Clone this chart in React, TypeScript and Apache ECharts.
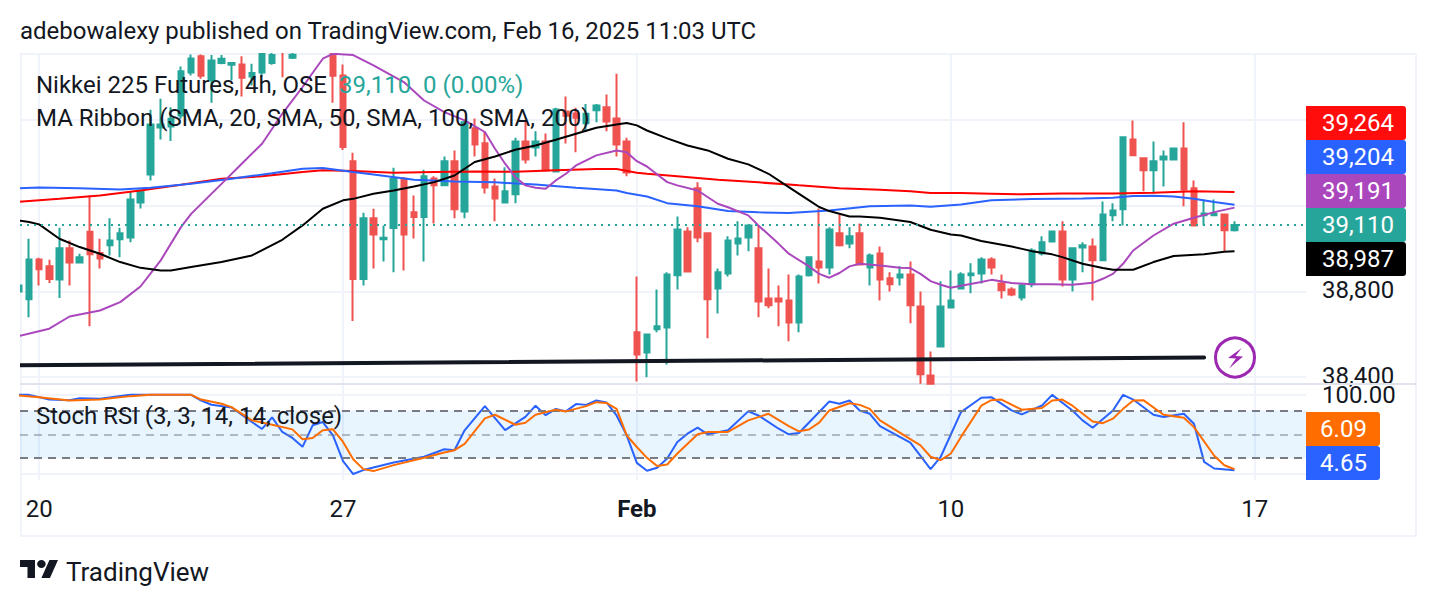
import React, { useEffect, useRef } from "react";
import * as echarts from "echarts";

const opens = [38800,38764,38949,38917,38856,39001,38935,39078,38979,39015,39043,39052,39215,39346,39565,39570,39621,39822,39897,39785,39866,39858,39859,39803,39822,39866,39960,39890,39960,39980,39990,39925,39808,39407,38858,39141,39044,39096,39326,39169,39147,39327,39295,39407,39173,39561,39491,39290,39215,39253,39500,39472,39500,39360,39640,39630,39585,39646,39659,39607,39500,38609,38515,38623,38632,38875,39080,39281,39071,38814,38884,39024,39052,39001,38767,38767,38758,38655,38875,38940,38912,39071,39024,39071,38912,38977,38861,38865,38879,38730,38408,38543,38725,38814,38875,38884,38949,38837,38809,38772,38833,38977,39033,39080,38856,39005,39010,38945,39155,39183,39509,39421,39365,39416,39416,39467,39281,39155,39155,39159,39085];
const closes = [38828,38949,38903,38858,39001,38935,38959,38973,38954,39038,39071,39229,39271,39579,39579,39606,39827,39887,39806,39878,39886,39866,39797,39819,39910,39903,39920,39905,39990,40010,40020,39806,39474,38858,39141,39066,39050,39326,39066,39147,39337,39295,39407,39183,39589,39486,39285,39234,39267,39500,39416,39500,39365,39649,39620,39610,39629,39668,39593,39486,39355,38506,38599,38637,38879,39089,38893,39052,38763,38889,39038,39047,39108,38753,38735,38753,38655,38870,38959,38912,39089,39015,39057,38926,38968,38856,38833,38879,38735,38413,38369,38730,38758,38879,38884,38949,38912,38805,38786,38828,38991,39029,39080,38856,39001,39015,38945,39159,39178,39519,39435,39365,39407,39430,39467,39276,39108,39164,39164,39085,39110];
const highs = [38835,39046,38957,38948,39097,39038,38976,39248,39046,39141,39097,39264,39273,39648,39699,39660,39850,39906,39906,39903,39903,39870,39897,39862,39950,39930,39970,39920,40010,40030,40040,39950,39859,39447,39167,39186,39108,39377,39334,39248,39368,39337,39430,39458,39595,39607,39547,39327,39379,39517,39598,39547,39537,39657,39710,39657,39675,39675,39719,39816,39517,38870,38599,38809,38889,39150,39099,39309,39071,38907,39057,39127,39108,39108,38907,38828,38879,38879,38959,39187,39099,39159,39099,39117,38977,39010,38889,38917,38940,38800,38520,38847,38898,38889,38931,38959,38959,38879,38819,38837,39001,39057,39080,39127,39001,39029,39047,39220,39211,39519,39598,39421,39500,39458,39467,39589,39318,39229,39229,39159,39127];
const lows = [38790,38680,38828,38839,38769,38828,38932,38637,38907,38968,38959,39029,39187,39318,39509,39502,39606,39808,39792,39680,39860,39785,39710,39761,39800,39858,39800,39885,39930,39950,39960,39680,39460,38662,38828,38907,38940,38889,38898,39047,38940,39117,39295,39141,39141,39430,39257,39127,39215,39211,39397,39430,39365,39355,39490,39449,39544,39589,39547,39430,39337,38380,38399,38609,38459,38809,38893,39029,38581,38697,38870,38968,38987,38679,38721,38637,38567,38609,38870,38837,38879,39010,39001,38921,38828,38758,38800,38828,38651,38369,38369,38539,38725,38809,38791,38837,38879,38767,38777,38758,38819,38968,39033,38823,38800,38889,38758,38945,39127,39108,39435,39267,39257,39290,39416,39197,39108,39108,39155,38987,39080];

const maRed = [[0,39218],[4,39232],[8,39248],[12,39271],[16,39298],[20,39326],[24,39337],[28,39357],[30,39365],[33,39362],[37,39354],[41,39357],[45,39360],[49,39358],[53,39365],[57,39371],[59,39371],[61,39354],[62,39349],[65,39337],[69,39321],[73,39309],[77,39295],[81,39282],[85,39274],[88,39268],[90,39259],[93,39259],[96,39256],[99,39253],[103,39257],[108,39257],[112,39260],[116,39267],[120,39264]];
const maBlue = [[0,39282],[2,39285],[6,39281],[10,39276],[13,39284],[17,39302],[21,39326],[25,39352],[28,39372],[30,39376],[33,39357],[35,39346],[39,39321],[43,39313],[47,39309],[51,39299],[55,39284],[59,39271],[60,39259],[62,39243],[64,39212],[67,39197],[70,39175],[73,39169],[76,39166],[80,39178],[84,39198],[88,39201],[90,39195],[93,39206],[96,39225],[100,39231],[105,39234],[108,39237],[110,39245],[112,39246],[114,39243],[116,39232],[118,39217],[120,39204]];
const maPurple = [[0,38592],[3,38626],[5,38683],[8,38711],[10,38750],[12,38823],[14,38945],[16,39100],[17,39162],[20,39302],[22,39396],[24,39489],[26,39629],[28,39754],[30,39886],[31,39909],[33,39903],[35,39855],[38,39777],[40,39691],[42,39637],[44,39598],[46,39544],[47,39466],[48,39396],[49,39333],[50,39295],[51,39284],[52,39279],[53,39318],[54,39349],[55,39388],[57,39435],[59,39458],[60,39450],[61,39408],[62,39383],[64,39310],[65,39295],[67,39271],[69,39209],[70,39193],[72,39155],[73,39108],[75,39022],[76,38976],[78,38917],[79,38882],[80,38864],[81,38886],[82,38917],[83,38929],[85,38921],[87,38910],[88,38909],[89,38882],[90,38848],[91,38831],[92,38817],[93,38826],[95,38844],[96,38854],[98,38839],[100,38833],[102,38833],[104,38831],[106,38840],[107,38859],[108,38882],[109,38929],[110,38991],[112,39061],[114,39116],[116,39144],[118,39170],[120,39191]];
const maBlack = [[0,39131],[1,39124],[2,39113],[4,39046],[6,39007],[8,38976],[10,38937],[12,38910],[14,38898],[15,38898],[17,38914],[20,38937],[23,38968],[26,39041],[28,39108],[30,39186],[32,39225],[33,39232],[35,39256],[37,39271],[39,39290],[41,39310],[43,39341],[45,39404],[47,39430],[49,39461],[51,39481],[53,39508],[55,39536],[57,39564],[59,39579],[60,39586],[61,39575],[62,39551],[64,39514],[66,39481],[68,39458],[70,39419],[72,39393],[74,39349],[76,39287],[78,39225],[79,39194],[80,39175],[82,39150],[83,39150],[85,39144],[88,39124],[90,39088],[92,39066],[93,39061],[95,39035],[98,39010],[100,38988],[102,38973],[103,38960],[105,38929],[107,38909],[108,38901],[110,38901],[112,38937],[114,38965],[117,38974],[119,38985],[120,38987]];
const trendLine = [[0,38455],[117,38492]];

const stochK = [[0,99.6],[1,99.6],[3,93.8],[5,92.9],[6,95.4],[8,94.6],[11,99.6],[13,99.6],[17,99.6],[18,92.5],[19,87.1],[21,83.7],[23,65.4],[24,56.7],[25,71.3],[26,52.9],[27,45.4],[28,34.2],[29,61.3],[30,65.4],[31,48.7],[32,16.2],[33,0],[34,5],[37,14.6],[40,21.7],[42,31.2],[43,30],[44,55],[46,85.4],[48,55.2],[50,72],[51,86],[52,74],[53,82],[54,78.8],[55,88],[56,87],[57,92.5],[58,90],[59,73.7],[60,48.7],[61,14],[62,4.2],[63,7.9],[64,19.6],[65,40.4],[66,50.8],[67,58.3],[68,50],[70,55],[72,78.8],[73,73.7],[75,57],[76,50],[77,51.7],[80,91.2],[81,88.4],[82,92.5],[83,80],[84,75.8],[85,60.4],[88,39.6],[90,6.2],[91,21.7],[93,77.9],[95,95.9],[96,96.7],[98,80],[99,75],[101,86.2],[102,99.6],[104,80],[105,67.5],[106,58.3],[108,80],[109,99.6],[110,93.7],[112,74.6],[113,71.7],[115,75.8],[116,63.3],[117,15.3],[118,7],[120,4.65]];
const stochD = [[0,98.7],[2,96.7],[5,92.5],[8,93.7],[11,98],[13,99.6],[17,99.6],[18,93.7],[20,88.4],[21,84.2],[23,67.5],[25,62],[27,56.2],[28,43.7],[29,45.4],[30,55],[31,56.2],[32,40.4],[33,18.7],[34,6.2],[35,3.7],[37,11.2],[40,20.4],[42,27],[43,30],[44,38],[46,70],[47,74.6],[49,62],[50,64.6],[51,74.6],[53,81],[54,78.8],[56,85.4],[57,90.4],[58,89.5],[59,82],[60,48.7],[61,34],[62,20.4],[63,10],[64,12],[65,25.8],[67,50],[68,53],[70,53],[72,67.5],[74,75.8],[76,60.4],[77,53.7],[78,56],[79,64.6],[80,80],[82,89],[83,87],[84,82],[85,67.5],[89,36],[90,21.7],[91,17.5],[92,25.8],[93,46.7],[95,86],[96,92.9],[97,93.7],[99,81],[101,83],[102,92.5],[103,93.7],[104,86],[106,66],[107,64],[108,69.6],[109,82],[110,92.5],[111,92.9],[113,74.6],[115,70.8],[116,59],[118,23],[119,11],[120,6.09]];

const dateTicks = [2, 32, 61, 92, 122];
const dateLabels = ["20", "27", "Feb", "10", "17"];
const priceLines = [39600, 39200, 38800, 38400];
const priceLabels = [38800, 38400];
const lastPrice = 39110;
const tagValues = ["39,264", "39,204", "39,191", "39,110", "38,987"];
const tagColors = ["#FF0D0D", "#2962FF", "#AB47BC", "#26A69A", "#000000"];
const stochTagValues = ["6.09", "4.65"];
const stochTagColors = ["#FF6D00", "#2962FF"];

const FONT = "Roboto";
const INK = "#131722";
const GRID = "#F0F3FA";
const UP = "#26A69A";
const DOWN = "#EF5350";
const X_MIN = (20 - 18.9) / 10.13;
const X_MAX = (1306 - 18.9) / 10.13;

const tvPath =
  "M14 22H7V11H0V4h14v18zM28 22h-8l7.5-18h8L28 22zM16 8a4 4 0 1 0 8 0a4 4 0 1 0 -8 0z";

export default function App() {
  const ref = useRef<HTMLDivElement>(null);
  useEffect(() => {
    if (!ref.current) return;
    echarts.graphic.registerShape("tvlogo", echarts.graphic.extendPath(tvPath, {}) as any);
    const chart = echarts.init(ref.current, undefined, { renderer: "svg", width: 1436, height: 606 });

    const text = (s: string, x: number, y: number, fill = INK, size = 24, align = "left") => ({
      type: "text",
      x,
      y,
      z: 100,
      silent: true,
      style: { text: s, fill, font: `${size}px ${FONT}`, textAlign: align, textVerticalAlign: "middle" },
    });
    const tag = (v: string, c: string, y: number, w: number, h: number, tx: number) => [
      { type: "rect", x: 1306, y, z: 90, shape: { width: w, height: h, r: [0, 3, 3, 0] }, style: { fill: c } },
      text(v, tx, y + h / 2, "#FFFFFF", 24, "center"),
    ];
    const hline = (y: number, color = GRID) => ({
      type: "line",
      z: 1,
      shape: { x1: 20, y1: y, x2: 1416, y2: y },
      style: { stroke: color, lineWidth: 2 },
    });
    const vline = (x: number, y1: number, y2: number, color = GRID) => ({
      type: "line",
      z: 1,
      shape: { x1: x, y1, x2: x, y2 },
      style: { stroke: color, lineWidth: 2 },
    });
    const mask = (x: number, y: number, width: number, height: number) => ({
      type: "rect",
      x,
      y,
      z: 50,
      silent: true,
      shape: { width, height },
      style: { fill: "#FFFFFF" },
    });

    const ma = (name: string, data: number[][], color: string, width = 2) => ({
      name,
      type: "line",
      xAxisIndex: 0,
      yAxisIndex: 0,
      data,
      showSymbol: false,
      smooth: false,
      z: 4,
      lineStyle: { color, width },
      silent: true,
    });

    chart.setOption({
      animation: false,
      backgroundColor: "#FFFFFF",
      textStyle: { fontFamily: FONT },
      grid: [
        { left: 20, right: 130, top: 54, height: 330 },
        { left: 20, right: 130, top: 385, height: 95 },
      ],
      xAxis: [
        {
          type: "value",
          gridIndex: 0,
          min: X_MIN,
          max: X_MAX,
          axisLine: { show: false },
          axisTick: { show: false, customValues: dateTicks },
          axisLabel: { show: false },
          splitLine: { show: true, lineStyle: { color: GRID, width: 2 } },
        },
        {
          type: "value",
          gridIndex: 1,
          min: X_MIN,
          max: X_MAX,
          axisLine: { show: false },
          axisTick: { show: false, customValues: dateTicks },
          axisLabel: {
            show: true,
            customValues: dateTicks,
            margin: 17,
            color: INK,
            fontSize: 24,
            fontFamily: FONT,
            showMinLabel: true,
            showMaxLabel: true,
            formatter: (v: number) => {
              const s = dateLabels[dateTicks.indexOf(Math.round(v))] ?? "";
              return s === "Feb" ? `{b|${s}}` : s;
            },
            rich: { b: { fontWeight: "bold", fontSize: 24, color: INK, fontFamily: FONT } },
          },
          splitLine: { show: true, lineStyle: { color: GRID, width: 2 } },
        },
      ],
      yAxis: [
        {
          type: "value",
          gridIndex: 0,
          position: "right",
          min: 38368,
          max: 39908,
          axisLine: { show: false },
          axisTick: { show: false, customValues: priceLines },
          axisLabel: {
            show: true,
            customValues: priceLabels,
            margin: 16,
            color: INK,
            fontSize: 24,
            fontFamily: FONT,
            align: "left",
            verticalAlign: "bottom",
            lineHeight: 3,
            formatter: (v: number) => v.toLocaleString("en-US"),
          },
          splitLine: { show: true, lineStyle: { color: GRID, width: 2 } },
        },
        {
          type: "value",
          gridIndex: 1,
          position: "right",
          min: -7.5,
          max: 112,
          axisLine: { show: false },
          axisTick: { show: false, customValues: [0, 100] },
          axisLabel: {
            show: true,
            customValues: [100],
            margin: 16,
            color: INK,
            fontSize: 24,
            fontFamily: FONT,
            align: "left",
            verticalAlign: "middle",
            formatter: (v: number) => v.toFixed(2),
          },
          splitLine: { show: true, lineStyle: { color: GRID, width: 2 } },
        },
      ],
      series: [
        {
          name: "Nikkei 225 Futures",
          type: "candlestick",
          xAxisIndex: 0,
          yAxisIndex: 0,
          barWidth: 6,
          z: 3,
          silent: true,
          data: opens.map((o, i) => [i, o, closes[i], lows[i], highs[i]]),
          itemStyle: {
            color: UP,
            color0: DOWN,
            borderColor: UP,
            borderColor0: DOWN,
            borderWidth: 2,
          },
          markLine: {
            silent: true,
            symbol: "none",
            label: { show: false },
            lineStyle: { color: UP, type: [2, 5], width: 2 },
            data: [{ yAxis: lastPrice }],
          },
        },
        ma("SMA 200", maRed, "#FF0000"),
        ma("SMA 100", maBlue, "#2962FF"),
        ma("SMA 50", maPurple, "#AB47BC"),
        ma("SMA 20", maBlack, "#000000"),
        {
          name: "Trend line",
          type: "line",
          xAxisIndex: 0,
          yAxisIndex: 0,
          data: trendLine,
          showSymbol: false,
          z: 5,
          silent: true,
          lineStyle: { color: INK, width: 4, cap: "round" },
        },
        {
          name: "%K",
          type: "line",
          xAxisIndex: 1,
          yAxisIndex: 1,
          data: stochK,
          showSymbol: false,
          z: 4,
          silent: true,
          lineStyle: { color: "#2962FF", width: 2 },
          markArea: {
            silent: true,
            itemStyle: { color: "rgba(33,150,243,0.1)" },
            data: [[{ yAxis: 20 }, { yAxis: 80 }]],
          },
          markLine: {
            silent: true,
            symbol: "none",
            label: { show: false },
            data: [
              { yAxis: 80, lineStyle: { color: "#787B86", type: [8, 6], width: 2 } },
              { yAxis: 50, lineStyle: { color: "rgba(120,123,134,0.5)", type: [8, 6], width: 2 } },
              { yAxis: 20, lineStyle: { color: "#787B86", type: [8, 6], width: 2 } },
            ],
          },
        },
        {
          name: "%D",
          type: "line",
          xAxisIndex: 1,
          yAxisIndex: 1,
          data: stochD,
          showSymbol: false,
          z: 5,
          silent: true,
          lineStyle: { color: "#FF6D00", width: 2 },
        },
      ],
      graphic: [
        hline(54),
        hline(536),
        vline(21, 54, 536),
        vline(1416, 54, 536),
        { type: "line", z: 1, shape: { x1: 20, y1: 384, x2: 1416, y2: 384 }, style: { stroke: "#E0E3EB", lineWidth: 2 } },
        mask(0, 36, 1436, 17),
        mask(0, 53, 20, 332),
        text("adebowalexy published on TradingView.com, Feb 16, 2025 11:03 UTC", 20, 31),
        text("Nikkei 225 Futures, 4h, OSE", 36, 85),
        text("39,110", 339, 85, UP),
        text("0 (0.00%)", 423, 85, UP),
        text("MA Ribbon (SMA, 20, SMA, 50, SMA, 100, SMA, 200)", 36, 118),
        text("Stoch RSI (3, 3, 14, 14, close)", 36, 416),
        ...tagValues.flatMap((v, i) => tag(v, tagColors[i], 106 + 34 * i, 100, 34, 1358)),
        ...stochTagValues.flatMap((v, i) => tag(v, stochTagColors[i], 412 + 34 * i, 74, 34, 1343.5)),
        {
          type: "circle",
          z: 95,
          shape: { cx: 1235, cy: 357.5, r: 19.5 },
          style: { fill: "#FFFFFF", stroke: "#9C27B0", lineWidth: 3 },
        },
        {
          type: "polygon",
          z: 96,
          shape: { points: [[1241.7, 348], [1228, 358], [1236, 358.5], [1229, 368.5], [1243, 356.5], [1235.5, 356]] },
          style: { fill: "#9C27B0" },
        },
        { type: "tvlogo", x: 20, y: 556, scaleX: 1.07, scaleY: 1, z: 100, style: { fill: INK } },
        text("TradingView", 66, 572, INK, 26),
      ],
    });
    return () => chart.dispose();
  }, []);
  return <div ref={ref} style={{ position: "fixed", left: 0, top: 0, width: 1436, height: 606, background: "#fff" }} />;
}
